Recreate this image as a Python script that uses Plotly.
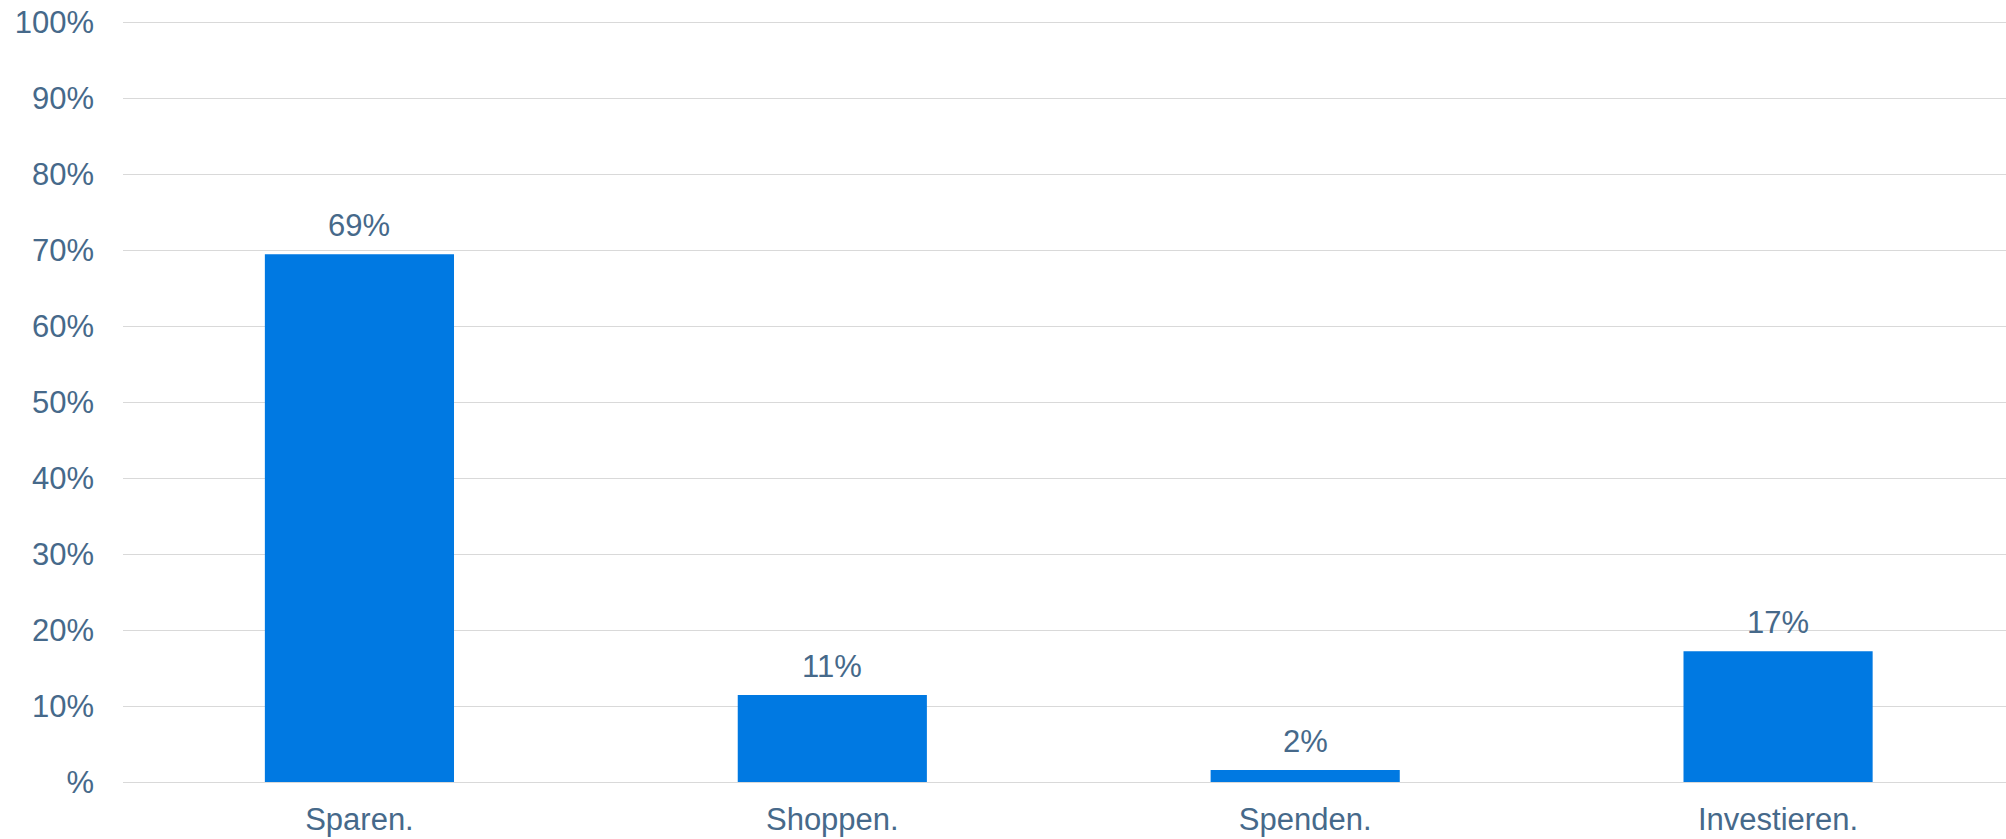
import plotly.graph_objects as go

categories = ["Sparen.", "Shoppen.", "Spenden.", "Investieren."]
values = [69.5, 11.45, 1.58, 17.2]
value_labels = ["69%", "11%", "2%", "17%"]
tick_vals = [0, 10, 20, 30, 40, 50, 60, 70, 80, 90, 100]
tick_text = ["%", "10%", "20%", "30%", "40%", "50%", "60%", "70%", "80%", "90%", "100%"]

TEXT = "#46698A"
BAR = "#0079E2"
GRID = "#D9D9D9"
FONT = "Liberation Sans, Arial, sans-serif"

fig = go.Figure()
fig.add_trace(go.Bar(
    x=categories, y=values, width=0.4,
    marker=dict(color=BAR, line=dict(width=0)),
    hoverinfo="skip",
))
for c, v, t in zip(categories, values, value_labels):
    fig.add_annotation(x=c, y=v, text=t, showarrow=False, yanchor="bottom",
                       yshift=9, font=dict(family=FONT, size=31, color=TEXT))

fig.update_layout(
    width=2006, height=839,
    margin=dict(l=123, r=0, t=20.5, b=57),
    paper_bgcolor="white", plot_bgcolor="white",
    showlegend=False,
    font=dict(family=FONT, size=31, color=TEXT),
    bargap=0.6,
)
fig.update_xaxes(range=[-0.5, 3.482], showgrid=False, showline=False, zeroline=False,
                 ticks="", ticklabelstandoff=16, automargin=False,
                 tickfont=dict(family=FONT, size=31, color=TEXT))
fig.update_yaxes(range=[0, 100.2], tickvals=tick_vals, ticktext=tick_text,
                 showgrid=True, gridcolor=GRID, gridwidth=1.3,
                 zeroline=True, zerolinecolor=GRID, zerolinewidth=1.3,
                 showline=False, ticks="", ticklabelstandoff=28, automargin=False,
                 ticklabeloverflow="allow",
                 tickfont=dict(family=FONT, size=31, color=TEXT))

fig.write_html("out.html",
               config={"displayModeBar": False},
               post_script="document.body.style.margin='0';document.body.style.overflow='hidden';")
